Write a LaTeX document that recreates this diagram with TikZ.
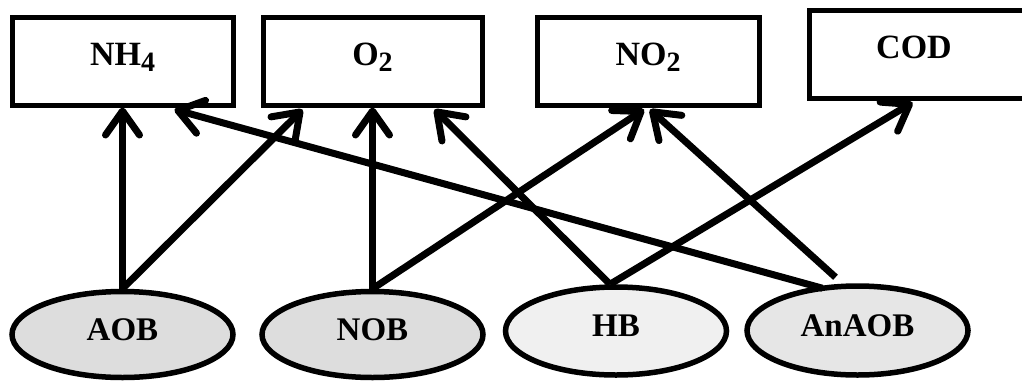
\documentclass[tikz,border=0pt]{standalone}
\usepackage{fontspec}
\setmainfont{Liberation Serif}
\usetikzlibrary{arrows.meta,calc,shapes.geometric}
\newcommand{\lowsub}[1]{\raisebox{-6pt}{\fontsize{28}{28}\selectfont #1}}
\definecolor{fillA}{RGB}{221,221,221}
\definecolor{fillH}{RGB}{240,240,240}
\definecolor{fillN}{RGB}{230,230,230}
\tikzset{
  boxnode/.style={draw, line width=5pt, rectangle, minimum height=88pt, inner sep=0pt,
    text height=24pt, text depth=16pt, font=\fontsize{34}{40}\selectfont\bfseries},
  bug/.style={draw, line width=5.5pt, ellipse, minimum height=86pt, minimum width=221pt, inner sep=0pt,
    text height=23pt, text depth=12pt, font=\fontsize{33}{40}\selectfont\bfseries},
  flow/.style={line width=7pt, -{Straight Barb[length=24pt,width=34pt,line cap=round,line join=round]}}
}
\begin{document}
\begin{tikzpicture}[x=1pt,y=-1pt]
\useasboundingbox (0,0) rectangle (1022,381);
\node[boxnode, minimum width=221pt] (nh4) at (122.5,61) {NH\lowsub{4}};
\node[boxnode, minimum width=219pt] (o2) at (372.5,61) {O\lowsub{2}};
\node[boxnode, minimum width=222pt] (no2) at (648,61) {NO\lowsub{2}};
\node[boxnode, minimum width=226pt] (cod) at (922,54) {\hspace*{-16pt}COD};
\node[bug, fill=fillA] (aob) at (122.5,334.5) {AOB};
\node[bug, fill=fillA] (nob) at (372.5,334.5) {NOB};
\node[bug, fill=fillH, minimum height=88pt] (hb) at (616,331) {HB};
\node[bug, fill=fillN, minimum height=89pt] (anaob) at (857.5,330.5) {AnAOB};
\coordinate (o2l) at ($(o2.south west)+(42,2)$);
\coordinate (o2r) at ($(o2.south east)+(-50,2)$);
\coordinate (no2l) at ($(no2.south)+(-4,2)$);
\coordinate (no2r) at ($(no2.south)+(2,2)$);
\coordinate (codp) at ($(cod.south west)+(106,2)$);
\coordinate (nh4r) at ($(nh4.south west)+(165,2)$);
\coordinate (hbt) at ($(hb.north)+(-6,0)$);
\coordinate (ana1) at ($(anaob.north)+(-22,-6)$);
\coordinate (ana2) at ($(anaob.north)+(-35,5)$);
\draw[flow] (aob.north) -- (nh4.south);
\draw[flow] (aob.north) -- (o2l);
\draw[flow] (nob.north) -- (o2.south);
\draw[flow] (nob.north) -- (no2l);
\draw[flow] (hbt) -- (o2r);
\draw[flow] (hbt) -- (codp);
\draw[flow] (ana1) -- (no2r);
\draw[flow] (ana2) -- (nh4r);
\end{tikzpicture}
\end{document}
